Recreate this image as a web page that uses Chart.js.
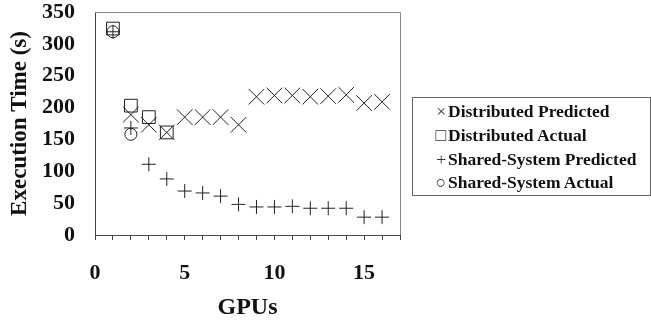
<!DOCTYPE html>
<html>
<head>
<meta charset="utf-8">
<script src="https://cdn.jsdelivr.net/npm/chart.js@4/dist/chart.umd.min.js"></script>
<style>
  html, body { margin: 0; padding: 0; background: #fff; }
  #wrap { position: relative; width: 651px; height: 322px; }
  #legend {
    position: absolute; left: 412px; top: 97px; width: 239px; height: 99px;
    border: 1px solid #666; box-sizing: border-box;
    font-family: "Liberation Serif", "Times New Roman", serif; font-weight: bold;
    font-size: 17.5px; color: #111; padding-top: 2px;
  }
  #legend div { height: 23.8px; line-height: 23.8px; white-space: nowrap; }
  #legend span.m { display: inline-block; width: 35px; text-align: right; padding-right: 2px; box-sizing: border-box; font-weight: normal; color: #333; }
</style>
</head>
<body>
<div id="wrap">
  <canvas id="chart" width="651" height="322"></canvas>
  <div id="legend"></div>
</div>
<script>
// GPU counts on the x axis
const gpus = [1, 2, 3, 4, 5, 6, 7, 8, 9, 10, 11, 12, 13, 14, 15, 16];

// execution time in seconds
const distributedPredicted = [null, 189, 173, 161, 185, 185, 185, 173, 217, 219, 219, 217, 218, 220, 207, 209];
const distributedActual = [324, 203, 185, 161];
const sharedPredicted = [319, 168, 111, 88, 69, 66, 61, 48, 44, 44, 45, 42, 42, 42, 28, 28];
const sharedActual = [319, 158];

const xLabels = [0, 5, 10, 15];
const seriesNames = ["Distributed Predicted", "Distributed Actual", "Shared-System Predicted", "Shared-System Actual"];
const legendGlyphs = ["\u00d7", "\u25a1", "+", "\u25cb"];

const font = "'Liberation Serif', 'Times New Roman', serif";
const ink = "#222";

function toPoints(values) {
  return values.map((v, i) => ({ x: gpus[i], y: v })).filter(p => p.y !== null);
}

function series(label, values, style, radius) {
  return {
    label,
    data: toPoints(values),
    pointStyle: style,
    pointRadius: radius,
    pointHoverRadius: radius,
    borderColor: ink,
    backgroundColor: "rgba(0,0,0,0)",
    borderWidth: 1,
    showLine: false
  };
}

// gray frame on top and right of the plot
const frame = {
  id: "frame",
  afterDraw(chart) {
    const a = chart.chartArea;
    const c = chart.ctx;
    c.save();
    c.strokeStyle = "#888";
    c.lineWidth = 1;
    c.beginPath();
    c.moveTo(a.left, a.top + 0.5);
    c.lineTo(a.right + 0.5, a.top + 0.5);
    c.lineTo(a.right + 0.5, a.bottom);
    c.stroke();
    c.restore();
  }
};

const ctx = document.getElementById("chart").getContext("2d");

new Chart(ctx, {
  type: "scatter",
  data: {
    datasets: [
      series(seriesNames[0], distributedPredicted, "crossRot", 11),
      series(seriesNames[1], distributedActual, "rect", 9),
      series(seriesNames[2], sharedPredicted, "cross", 7),
      series(seriesNames[3], sharedActual, "circle", 6)
    ]
  },
  options: {
    responsive: false,
    animation: false,
    layout: { padding: { top: 11, right: 251, bottom: 0, left: 0 } },
    plugins: { legend: { display: false }, tooltip: { enabled: false } },
    scales: {
      x: {
        type: "linear",
        min: 0,
        max: 17,
        afterFit(scale) { scale.height = 87; scale.paddingLeft = 0; scale.paddingRight = 0; },
        ticks: {
          stepSize: 1,
          autoSkip: false,
          maxRotation: 0,
          padding: 20,
          color: "#111",
          font: { family: font, size: 22, weight: "bold" },
          callback: v => xLabels.includes(v) ? String(v) : ""
        },
        grid: { drawOnChartArea: false, drawTicks: true, tickLength: 5, color: "#444" },
        border: { color: "#444", width: 1 },
        title: {
          display: true,
          text: "GPUs",
          color: "#111",
          padding: { top: 4, bottom: 2 },
          font: { family: font, size: 24, weight: "bold", lineHeight: 1 }
        }
      },
      y: {
        min: 0,
        max: 350,
        afterFit(scale) { scale.width = 95; scale.paddingTop = 0; scale.paddingBottom = 0; },
        ticks: {
          stepSize: 50,
          padding: 12,
          color: "#111",
          font: { family: font, size: 22, weight: "bold" }
        },
        grid: { display: false },
        border: { color: "#444", width: 1 },
        title: {
          display: true,
          text: "Execution Time (s)",
          color: "#111",
          padding: { top: 6, bottom: 0 },
          font: { family: font, size: 23, weight: "bold" }
        }
      }
    }
  },
  plugins: [frame]
});

// legend drawn as html next to the plot
document.getElementById("legend").innerHTML = seriesNames
  .map((name, i) => `<div><span class="m">${legendGlyphs[i]}</span>${name}</div>`)
  .join("");
</script>
</body>
</html>
